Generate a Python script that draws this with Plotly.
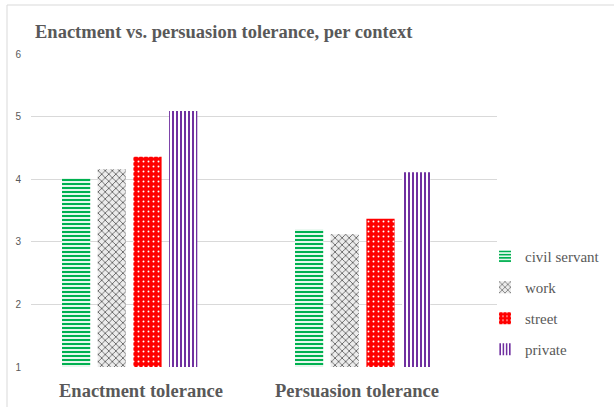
import plotly.graph_objects as go

# Survey means: tolerance scores per context
categories = ["Enactment tolerance", "Persuasion tolerance"]
series_names = ["civil servant", "work", "street", "private"]
civil_servant = [4.02, 3.20]
work = [4.16, 3.12]
street = [4.36, 3.37]
private = [5.09, 4.11]
y_ticks = [1, 2, 3, 4, 5, 6]

values = [civil_servant, work, street, private]

GRAY = "#595959"
SERIF = "Liberation Serif, Times New Roman, serif"

# Fill styles for each context (pattern shape, fg colour, bg colour, size, solidity)
styles = [
    dict(shape="-", fgcolor="#00B050", bgcolor="white", size=4, solidity=0.55),
    dict(shape="x", fgcolor="#3a3a3a", bgcolor="#ececec", size=5, solidity=0.25),
    dict(shape=".", fgcolor="white", bgcolor="#FF0000", size=5, solidity=0.12),
    dict(shape="|", fgcolor="#7030A0", bgcolor="white", size=4, solidity=0.5),
]

# Five slots per category; the last one stays empty, so the group sits left of centre
n_slots = 5
group_width = 0.766
slot = group_width / n_slots
bar_width = slot * 0.79

fig = go.Figure()
xs = list(range(len(categories)))
for i, (name, vals, st) in enumerate(zip(series_names, values, styles)):
    offset = -group_width / 2 + i * slot + (slot - bar_width) / 2
    fig.add_trace(go.Bar(
        x=xs, y=vals, name=name,
        width=bar_width, offset=offset,
        marker=dict(
            color=st["bgcolor"],
            line=dict(width=0),
            pattern=dict(shape=st["shape"], fgcolor=st["fgcolor"], bgcolor=st["bgcolor"],
                         size=st["size"], solidity=st["solidity"], fillmode="replace"),
        ),
        legendgroup=name,
    ))

# Category labels under each group
label_shift = [-7, -24]
for i, cat in enumerate(categories):
    fig.add_annotation(x=xs[i], y=0, xref="x", yref="paper", yanchor="top",
                       yshift=-12, xshift=label_shift[i], text=f"<b>{cat}</b>",
                       showarrow=False, font=dict(family=SERIF, size=18.5, color=GRAY))

# Outer chart border
fig.add_shape(type="rect", xref="paper", yref="paper",
              x0=-24 / 466, x1=1.5, y0=-0.5, y1=(367 - 5) / 313,
              line=dict(color="#d9d9d9", width=1), fillcolor="rgba(0,0,0,0)", layer="below")

fig.update_layout(
    width=614, height=407,
    margin=dict(l=31, r=117, t=54, b=40, autoexpand=False),
    paper_bgcolor="white", plot_bgcolor="white",
    barmode="overlay",
    title=dict(text="<b>Enactment vs. persuasion tolerance, per context</b>",
               x=35 / 614, xanchor="left", y=1 - 32 / 407, yanchor="middle",
               font=dict(family=SERIF, size=18.5, color=GRAY)),
    xaxis=dict(range=[-0.5, 1.5], showticklabels=False, showgrid=False,
               zeroline=False, showline=False, fixedrange=True),
    yaxis=dict(range=[1, 6], tickvals=y_ticks, showgrid=True, gridcolor="#d9d9d9",
               gridwidth=1, zeroline=False, showline=False, ticks="",
               ticklabelstandoff=9,
               tickfont=dict(family="Liberation Sans, Arial, sans-serif", size=10, color=GRAY)),
    legend=dict(x=(485 - 31) / 466, xanchor="left", y=(367 - 240) / 313, yanchor="top",
                font=dict(family=SERIF, size=15, color=GRAY),
                tracegroupgap=8.5, itemwidth=30, bgcolor="rgba(0,0,0,0)",
                traceorder="grouped"),
    showlegend=True,
)

fig.write_html("out.html")
